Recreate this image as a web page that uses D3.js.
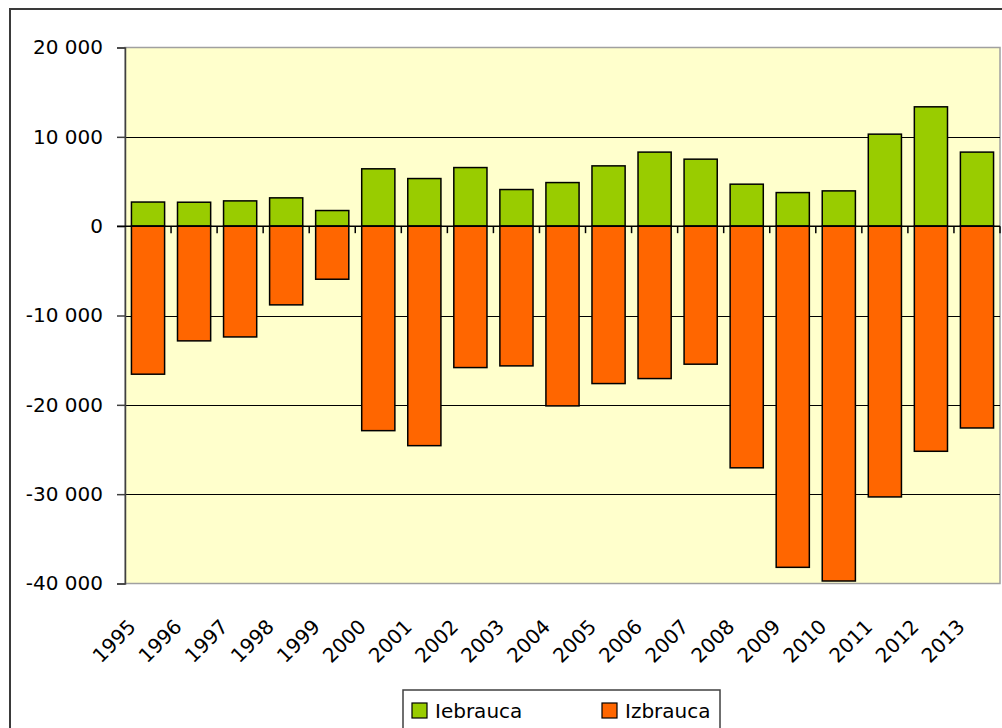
<!DOCTYPE html>
<html>
<head>
<meta charset="utf-8">
<script src="https://cdn.jsdelivr.net/npm/d3@7"></script>
<style>
  html, body { margin: 0; padding: 0; background: #ffffff; }
  svg { display: block; font-family: "DejaVu Sans", Verdana, sans-serif; }
</style>
</head>
<body>
<svg id="chart" width="1002" height="728"></svg>
<script>
// Arrivals (Iebrauca) and departures (Izbrauca) per year
const years = ["1995","1996","1997","1998","1999","2000","2001","2002","2003","2004",
               "2005","2006","2007","2008","2009","2010","2011","2012","2013"];
const iebrauca = [2700, 2680, 2830, 3170, 1750, 6420, 5330, 6560, 4100, 4880,
                  6750, 8290, 7500, 4700, 3760, 3950, 10300, 13360, 8290];
const izbrauca = [-16570, -12840, -12400, -8810, -5940, -22890, -24570, -15830, -15640, -20120,
                  -17620, -17060, -15450, -27050, -38190, -39720, -30310, -25200, -22590];
const yTicks = [20000, 10000, 0, -10000, -20000, -30000, -40000];
const seriesNames = ["Iebrauca", "Izbrauca"];
const seriesColors = ["#99cc00", "#ff6600"];

const svg = d3.select("#chart");

const plot = { left: 125, right: 1000, top: 47.5, bottom: 583.5 };
const fontSize = 20;

const x = d3.scaleBand().domain(years).range([plot.left, plot.right]).paddingInner(0.28).paddingOuter(0.14);
const xCat = d3.scaleBand().domain(years).range([plot.left, plot.right]);
const y = d3.scaleLinear().domain([-40000, 20000]).range([plot.bottom, plot.top]);

const fmt = v => (v < 0 ? "-" : "") + d3.format(",")(Math.abs(v)).replace(/,/g, " ");

// Outer chart frame
svg.append("rect").attr("x", 10).attr("y", 9).attr("width", 1000).attr("height", 730)
  .attr("fill", "#ffffff").attr("stroke", "#3a3a3a").attr("stroke-width", 2);

// Plot area
svg.append("rect").attr("x", plot.left).attr("y", plot.top)
  .attr("width", plot.right - plot.left).attr("height", plot.bottom - plot.top)
  .attr("fill", "#ffffcc").attr("stroke", "#a0a0a0").attr("stroke-width", 1.5);

// Horizontal gridlines
svg.append("g").selectAll("line")
  .data(yTicks.filter(v => v !== 20000 && v !== -40000 && v !== 0))
  .join("line")
  .attr("x1", plot.left).attr("x2", plot.right)
  .attr("y1", d => Math.round(y(d)) + 0.5).attr("y2", d => Math.round(y(d)) + 0.5)
  .attr("stroke", "#000000").attr("stroke-width", 1.2);

// Bars
const barStyle = sel => sel.attr("stroke", "#000000").attr("stroke-width", 1.5);

svg.append("g").selectAll("rect")
  .data(years.map((yr, i) => ({ yr, v: iebrauca[i] })))
  .join("rect")
  .attr("x", d => x(d.yr)).attr("width", x.bandwidth())
  .attr("y", d => y(d.v)).attr("height", d => y(0) - y(d.v))
  .attr("fill", seriesColors[0]).call(barStyle);

svg.append("g").selectAll("rect")
  .data(years.map((yr, i) => ({ yr, v: izbrauca[i] })))
  .join("rect")
  .attr("x", d => x(d.yr)).attr("width", x.bandwidth())
  .attr("y", y(0)).attr("height", d => y(d.v) - y(0))
  .attr("fill", seriesColors[1]).call(barStyle);

// Y axis
const yAxis = d3.axisLeft(y).tickValues(yTicks).tickSize(8).tickPadding(14).tickFormat(fmt);
const yg = svg.append("g").attr("transform", `translate(${plot.left},0)`).call(yAxis);
yg.select(".domain").attr("stroke", "#404040").attr("stroke-width", 1.5);
yg.selectAll(".tick line").attr("stroke", "#404040").attr("stroke-width", 1.5);
yg.selectAll("text").attr("font-size", fontSize).attr("fill", "#000000")
  .attr("font-family", "DejaVu Sans, sans-serif");

// X axis along zero with category boundary ticks
const zeroY = y(0);
svg.append("line").attr("x1", plot.left - 8).attr("x2", plot.right)
  .attr("y1", zeroY).attr("y2", zeroY)
  .attr("stroke", "#000000").attr("stroke-width", 1.5);
svg.append("g").selectAll("line")
  .data(years.slice(1).concat(["end"]))
  .join("line")
  .attr("x1", d => d === "end" ? plot.right : xCat(d))
  .attr("x2", d => d === "end" ? plot.right : xCat(d))
  .attr("y1", zeroY).attr("y2", zeroY + 7)
  .attr("stroke", "#000000").attr("stroke-width", 1.5);

// Category labels, rotated
svg.append("g").selectAll("text")
  .data(years)
  .join("text")
  .attr("transform", d => `translate(${xCat(d) + xCat.bandwidth() / 2 - 11},${628}) rotate(-45)`)
  .attr("text-anchor", "end")
  .attr("font-size", fontSize)
  .attr("fill", "#000000")
  .text(d => d);

// Legend
const legend = svg.append("g");
legend.append("rect").attr("x", 403).attr("y", 690).attr("width", 317).attr("height", 60)
  .attr("fill", "#ffffff").attr("stroke", "#404040").attr("stroke-width", 1.5);
const legendX = [412, 602];
seriesNames.forEach((name, i) => {
  legend.append("rect").attr("x", legendX[i]).attr("y", 703).attr("width", 15).attr("height", 15)
    .attr("fill", seriesColors[i]).attr("stroke", "#000000").attr("stroke-width", 1.2);
  legend.append("text").attr("x", legendX[i] + 23).attr("y", 718)
    .attr("font-size", fontSize).attr("fill", "#000000").text(name);
});
</script>
</body>
</html>
